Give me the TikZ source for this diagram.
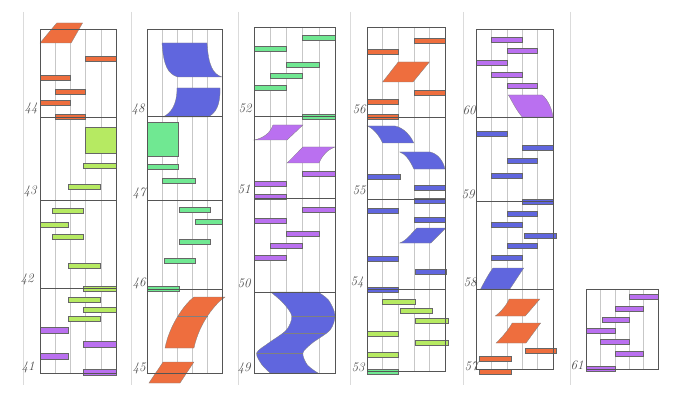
\documentclass[tikz,border=0pt]{standalone}
\usepackage{xcolor}
\usepackage{tikz}

\definecolor{myorange}{RGB}{238,110,62}
\definecolor{mylime}{RGB}{182,234,98}
\definecolor{mygreen}{RGB}{112,232,146}
\definecolor{myblue}{RGB}{96,102,222}
\definecolor{mypurple}{RGB}{186,112,240}
\definecolor{pencil}{RGB}{85,85,85}

\begin{document}
\begin{tikzpicture}[x=1pt,y=-1pt,
  frame/.style={draw=pencil,line width=0.7pt},
  gridline/.style={draw=black!22,line width=0.4pt},
  pageline/.style={draw=black!14,line width=0.4pt},
  bar/.style={draw=black!60,line width=0.4pt},
  blob/.style={draw=black!50,line width=0.3pt},
  lbl/.style={text=black!70,font=\fontsize{13}{13}\selectfont\itshape,inner sep=0pt}]

\useasboundingbox (0,0) rectangle (680,393);

% faint ruled lines of the paper
\foreach \px in {23,131,238,350,463,570}
  \draw[pageline] (\px,12) -- (\px,385);

% column 41-44
\begin{scope}[shift={(40,0)},x=15.2pt]
  \foreach \k in {1,...,4} \draw[gridline] (\k,29) -- (\k,373);
  % cell 44
  \draw[blob,fill=myorange] (1.1,23) -- (2.8,23) -- (2.05,43) -- (0,43) -- cycle;
  \foreach \a/\b/\y in {3/5/56,0/2/75,1/3/89,0/2/100,1/3/114}
    \draw[bar,fill=myorange] (\a,\y) rectangle (\b,\y+5.5);
  % cells 43 and 42
  \draw[bar,fill=mylime] (3,127) rectangle (5,153);
  \foreach \a/\b/\y in {2.85/5/163,1.85/3.95/184,0.8/2.85/208,0/1.85/222,0.8/2.85/234,
                        1.85/3.95/263,2.85/5/286,1.85/3.95/297,2.85/5/307,1.85/3.95/316}
    \draw[bar,fill=mylime] (\a,\y) rectangle (\b,\y+5.5);
  % cell 41
  \foreach \a/\b/\y in {0/1.85/327,2.85/5/341,0/1.85/353,2.85/5/369}
    \draw[bar,fill=mypurple] (\a,\y) rectangle (\b,\y+6);
  \draw[frame] (0,29) rectangle (5,373);
  \foreach \h in {117,200,288} \draw[frame] (0,\h) -- (5,\h);
\end{scope}

% column 45-48
\begin{scope}[shift={(147,0)},x=15pt]
  \foreach \k in {1,...,4} \draw[gridline] (\k,29) -- (\k,373);
  % cell 48
  \draw[blob,fill=myblue] (1,43) -- (4,43) .. controls (4.1,66) and (4.4,74) .. (5,77)
    -- (2.05,77) .. controls (1.4,74) and (1.1,66) .. cycle;
  \draw[blob,fill=myblue] (2,88) -- (4.87,88) .. controls (4.9,105) and (4.6,113) .. (4.07,117)
    -- (1.07,117) .. controls (1.6,113) and (2,105) .. cycle;
  % cells 47 and 46
  \draw[bar,fill=mygreen] (0,122) rectangle (2.07,156);
  \foreach \a/\b/\y in {0/2.07/164,1/3.2/178,2.13/4.2/207,3.2/5/219,2.13/4.2/239,1.13/3.2/258,0/2.13/286}
    \draw[bar,fill=mygreen] (\a,\y) rectangle (\b,\y+5.5);
  % cell 45
  \draw[blob,fill=myorange] (3.13,297) -- (5.2,297) .. controls (4.6,303) and (3.5,322) .. (3.13,348)
    -- (1.2,348) .. controls (1.5,325) and (2.5,304) .. cycle;
  \draw[blob] (2.05,316) -- (4.08,316);
  \draw[blob,fill=myorange] (1.07,362) -- (3.13,362) -- (2.2,383) -- (0.13,383) -- cycle;
  \draw[frame] (0,29) rectangle (5,373);
  \foreach \h in {116,200,289} \draw[frame] (0,\h) -- (5,\h);
\end{scope}

% column 49-52
\begin{scope}[shift={(254,0)},x=16.2pt]
  \foreach \k in {1,...,4} \draw[gridline] (\k,27) -- (\k,373);
  % cell 52
  \foreach \a/\b/\y in {3/5/35,0/2/46,2/4/62,1/3/73,0/2/85,3/5/114}
    \draw[bar,fill=mygreen] (\a,\y) rectangle (\b,\y+5);
  % cells 51 and 50
  \draw[blob,fill=mypurple] (1.17,125) -- (3.02,125) -- (2.04,140) -- (0,140)
    .. controls (0.6,138) and (1.0,133) .. cycle;
  \draw[blob,fill=mypurple] (3.02,147) -- (5,147) .. controls (4.5,150) and (4.2,156) .. (4.01,163)
    -- (2.04,163) -- cycle;
  \foreach \a/\b/\y in {3/5/171,0/2/181,0/2/194,3/5/207,0/2/218,2/4/231,1/3/243,0/2/255}
    \draw[bar,fill=mypurple] (\a,\y) rectangle (\b,\y+5.5);
  % cell 49
  \draw[blob,fill=myblue] plot[smooth] coordinates {(1.03,292) (1.8,303) (2.33,316) (2.0,330)
      (0.9,343) (0.16,353) (0.5,365) (1.0,373)}
    -- plot[smooth] coordinates {(3.95,373) (3.3,365) (3.02,353) (3.6,343) (4.7,330)
      (5.0,315) (4.6,300) (3.95,292)} -- cycle;
  \draw[blob] (2.33,316) -- (4.98,316);
  \draw[blob] (1.85,333) -- (4.4,333);
  \draw[blob] (0.16,353) -- (3.02,353);
  \draw[frame] (0,27) rectangle (5,373);
  \foreach \h in {116,198,292} \draw[frame] (0,\h) -- (5,\h);
\end{scope}

% column 53-56
\begin{scope}[shift={(367,0)},x=15.6pt]
  \foreach \k in {1,...,4} \draw[gridline] (\k,27) -- (\k,371);
  % cell 56
  \foreach \a/\b/\y in {3/5/38,0/2/49,3/5/90,0/2/99,0/2/114}
    \draw[bar,fill=myorange] (\a,\y) rectangle (\b,\y+5.5);
  \draw[blob,fill=myorange] (2,62) -- (4,62) -- (2.95,82) -- (1,82) -- cycle;
  % cells 55 and 54
  \draw[blob,fill=myblue] (0,126) -- (1.8,126) .. controls (2.4,128) and (2.8,136) .. (3,143)
    -- (1,143) .. controls (0.8,136) and (0.4,128) .. cycle;
  \draw[blob,fill=myblue] (2.1,152) -- (4.05,152) .. controls (4.6,154) and (4.9,162) .. (5,169)
    -- (3,169) .. controls (2.8,162) and (2.5,154) .. cycle;
  \draw[blob,fill=myblue] (3.2,228) -- (5.05,228) -- (4.1,243) -- (2.1,243)
    .. controls (2.6,240) and (2.9,232) .. cycle;
  \foreach \a/\b/\y in {0/2.1/174,3/5/185,3/5/198,0/2/208,3/5/217,0/2/256,3.1/5.1/269,0/2/287}
    \draw[bar,fill=myblue] (\a,\y) rectangle (\b,\y+5);
  % cell 53
  \foreach \a/\b/\y in {1/3.1/299,2.1/4.2/308,3.1/5.2/318,0/2/331,3.1/5.2/340,0/2/352}
    \draw[bar,fill=mylime] (\a,\y) rectangle (\b,\y+5);
  \draw[bar,fill=mygreen] (0,369) rectangle (2,374);
  \draw[frame] (0,27) rectangle (5,371);
  \foreach \h in {117,199,289} \draw[frame] (0,\h) -- (5,\h);
\end{scope}

% column 57-60
\begin{scope}[shift={(476,0)},x=15.4pt]
  \foreach \k in {1,...,4} \draw[gridline] (\k,29) -- (\k,369);
  % cell 60
  \foreach \a/\b/\y in {1/3/37,2/4/48,0/2/60,1/3/72,2/4/83}
    \draw[bar,fill=mypurple] (\a,\y) rectangle (\b,\y+5.5);
  \draw[blob,fill=mypurple] (2.1,95) -- (4.3,95) .. controls (4.7,100) and (4.95,110) .. (5,117)
    -- (3,117) .. controls (2.6,110) and (2.3,100) .. cycle;
  % cells 59 and 58
  \foreach \a/\b/\y in {0/2/131,3/5/145,2/4/158,1/3/173,3/5/199,2/4/211,1/3/222,3.1/5.2/233,2/4/243,1/3/255}
    \draw[bar,fill=myblue] (\a,\y) rectangle (\b,\y+5);
  \draw[blob,fill=myblue] (1.1,268) -- (3.1,268) -- (2.2,289) -- (0.3,289)
    .. controls (0.6,280) and (0.9,272) .. cycle;
  % cell 57
  \draw[blob,fill=myorange] (2.15,299) -- (4.15,299) -- (3.2,316) -- (1.25,316)
    .. controls (1.6,312) and (2.0,305) .. cycle;
  \draw[blob,fill=myorange] (2.35,323) -- (4.2,323) -- (3.25,343) -- (1.3,343)
    .. controls (1.7,337) and (2.1,330) .. cycle;
  \foreach \a/\b/\y in {3.2/5.2/348,0.2/2.3/356,0.2/2.3/369}
    \draw[bar,fill=myorange] (\a,\y) rectangle (\b,\y+5);
  \draw[frame] (0,29) rectangle (5,369);
  \foreach \h in {117,201,289} \draw[frame] (0,\h) -- (5,\h);
\end{scope}

% column 61
\begin{scope}[shift={(586,0)},x=14.4pt]
  \foreach \k in {1,...,4} \draw[gridline] (\k,289) -- (\k,369);
  \foreach \a/\b/\y in {3/5/294,2/4/306,1.1/3/317,0/2/328,1/3/339,2/4/351,0/2/366}
    \draw[bar,fill=mypurple] (\a,\y) rectangle (\b,\y+5.5);
  \draw[frame] (0,289) rectangle (5,369);
\end{scope}

% numbers of the cells
\foreach \n/\px/\py in {44/31/108,43/30/191,42/27/279,41/28/367,
                        48/138/109,47/139/193,46/139/283,45/139/368,
                        52/245/108,51/244/189,50/244/283,49/244/368,
                        56/359/109,55/359/190,54/357/282,53/358/367,
                        60/469/110,59/468/194,58/470/282,57/471/366,61/577/365}
  \node[lbl] (l\n) at (\px,\py) {\n};
\end{tikzpicture}
\end{document}
